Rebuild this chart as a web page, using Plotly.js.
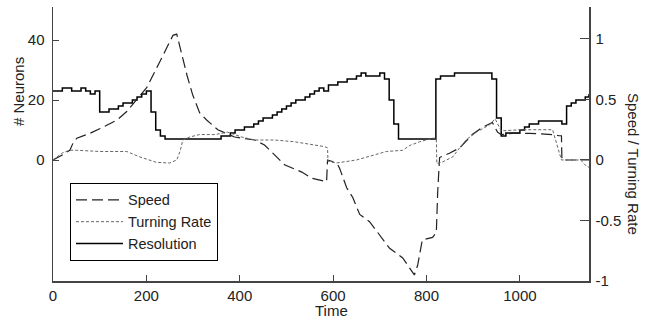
<!DOCTYPE html>
<html>
<head>
<meta charset="utf-8">
<script src="https://cdn.plot.ly/plotly-3.0.1.min.js"></script>
<style>html,body{margin:0;padding:0;background:#fff;}#chart{width:646px;height:320px;}</style>
</head>
<body>
<div id="chart"></div>
<script>
// Resolution (# Neurons, left axis), sampled every 10 time units
const resTime = [0,10,20,30,40,50,60,70,80,90,100,110,120,130,140,150,160,170,180,190,200,210,220,230,240,250,260,270,280,290,300,310,320,330,340,350,360,370,380,390,400,410,420,430,440,450,460,470,480,490,500,510,520,530,540,550,560,570,580,590,600,610,620,630,640,650,660,670,680,690,700,710,720,730,740,750,760,770,780,790,800,810,820,830,840,850,860,870,880,890,900,910,920,930,940,950,960,970,980,990,1000,1010,1020,1030,1040,1050,1060,1070,1080,1090,1100,1110,1120,1130,1140,1148];
const resNeurons = [23,23,24,24,23,23,24,23,22,23,16,16,17,17,18,19,19,20,21,22,23,16,10,8,7,7,7,7,7,7,7,7,7,7,7,7,8,8,9,10,10,11,11,12,13,14,14,15,16,17,18,19,20,20,21,22,23,24,23,25,25,26,26,27,27,28,29,28,28,28,29,27,20,12,7,7,7,7,7,7,7,7,27,28,28,28,29,29,29,29,29,29,29,29,27,14,8,9,9,9,10,11,12,12,13,13,13,13,13,12,18,19,20,20,21,22,22];

// Speed (right axis)
const speedTime = [0,15,36,43,51,79,101,137,158,180,201,222,244,257,265,272,287,299,308,314,329,353,389,432,453,481,496,533,554,586,588,597,610,614,629,642,657,678,699,721,749,768,774,781,785,791,813,821,824,826,828,849,871,898,920,941,952,960,984,1020,1070,1084,1089,1090,1142,1148];
const speedValue = [0,0.03,0.08,0.14,0.18,0.22,0.26,0.33,0.40,0.50,0.60,0.76,0.93,1.03,1.04,0.93,0.70,0.54,0.45,0.39,0.33,0.25,0.19,0.165,0.124,0.017,-0.04,-0.10,-0.15,-0.18,0,-0.01,-0.04,-0.07,-0.23,-0.31,-0.45,-0.51,-0.62,-0.73,-0.81,-0.92,-0.95,-0.87,-0.79,-0.66,-0.64,-0.60,-0.26,-0.04,0.02,0.056,0.10,0.21,0.27,0.31,0.23,0.21,0.22,0.22,0.21,0.20,0.20,0.0,0.0,0.0];

// Turning Rate (right axis)
const turnTime = [0,21,36,51,101,158,186,222,250,265,272,278,293,314,347,374,404,432,475,518,582,588,589,607,650,684,714,749,764,785,813,821,822,834,856,871,886,907,935,947,960,1000,1070,1089,1130,1142,1148];
const turnValue = [0,0.06,0.08,0.08,0.07,0.07,0.025,-0.02,-0.025,0,0.07,0.165,0.19,0.21,0.21,0.23,0.19,0.165,0.165,0.15,0.11,0.10,-0.01,-0.025,0,0.04,0.07,0.08,0.12,0.15,0.18,0.18,-0.03,-0.017,0.025,0.10,0.17,0.23,0.29,0.34,0.24,0.25,0.25,0.0,0.0,-0.05,-0.06];

const xTicks = [0,200,400,600,800,1000];
const leftTicks = [0,20,40];
const rightTicks = [-1,-0.5,0,0.5,1];

const FONT = 'Liberation Sans, Arial, sans-serif';
const FS = 15;
const txt = '#222';

const traces = [
  {x: speedTime, y: speedValue, yaxis: 'y2', name: 'Speed', mode: 'lines',
   line: {color: '#222', width: 1.2, dash: '11px,5px'}},
  {x: turnTime, y: turnValue, yaxis: 'y2', name: 'Turning Rate', mode: 'lines',
   line: {color: '#666', width: 1, dash: '3px,2px'}},
  {x: resTime, y: resNeurons, yaxis: 'y', name: 'Resolution', mode: 'lines',
   line: {color: '#000', width: 1.5, shape: 'hv'}}
];

const layout = {
  width: 646, height: 320,
  margin: {l: 53, r: 57, t: 7, b: 39},
  paper_bgcolor: '#fff', plot_bgcolor: '#fff',
  font: {family: FONT, size: FS, color: txt},
  showlegend: true,
  legend: {x: 0.0317, y: 0.358, xanchor: 'left', yanchor: 'top',
           bordercolor: '#000', borderwidth: 1, bgcolor: '#fff',
           font: {family: FONT, size: 14.5, color: txt}, itemwidth: 47,
           traceorder: 'normal'},
  xaxis: {range: [0, 1148], tickvals: xTicks, ticks: 'inside', ticklen: 6,
          tickcolor: '#444', showline: true, linecolor: '#444', linewidth: 1.5,
          showgrid: false, zeroline: false, tickfont: {size: FS, color: txt}},
  yaxis: {range: [-40.33, 51], tickvals: leftTicks, ticks: 'inside', ticklen: 6,
          tickcolor: '#444', showline: true, linecolor: '#444', linewidth: 1.5,
          showgrid: false, zeroline: false, tickfont: {size: FS, color: txt},
          ticklabelstandoff: 4},
  yaxis2: {range: [-1, 1.264], tickvals: rightTicks, ticktext: ['-1','-0.5','0','0.5','1'],
           overlaying: 'y', side: 'right', anchor: 'x', ticks: 'inside', ticklen: 9,
           tickcolor: '#444', showline: true, linecolor: '#444', linewidth: 1.5,
           showgrid: false, zeroline: false, tickfont: {size: FS, color: txt},
           ticklabelstandoff: 2},
  annotations: [
    {text: '# Neurons', xref: 'paper', yref: 'paper', x: (18-53)/536, y: (281-92)/274,
     xanchor: 'center', yanchor: 'middle', textangle: -90, showarrow: false,
     font: {family: FONT, size: FS, color: txt}},
    {text: 'Speed / Turning Rate', xref: 'paper', yref: 'paper', x: (634-53)/536, y: (281-164)/274,
     xanchor: 'center', yanchor: 'middle', textangle: 90, showarrow: false,
     font: {family: FONT, size: FS, color: txt}},
    {text: 'Time', xref: 'paper', yref: 'paper', x: (331-53)/536, y: (281-310)/274,
     xanchor: 'center', yanchor: 'middle', showarrow: false,
     font: {family: FONT, size: FS, color: txt}}
  ]
};

Plotly.newPlot('chart', traces, layout, {displayModeBar: false, staticPlot: true});
</script>
</body>
</html>
